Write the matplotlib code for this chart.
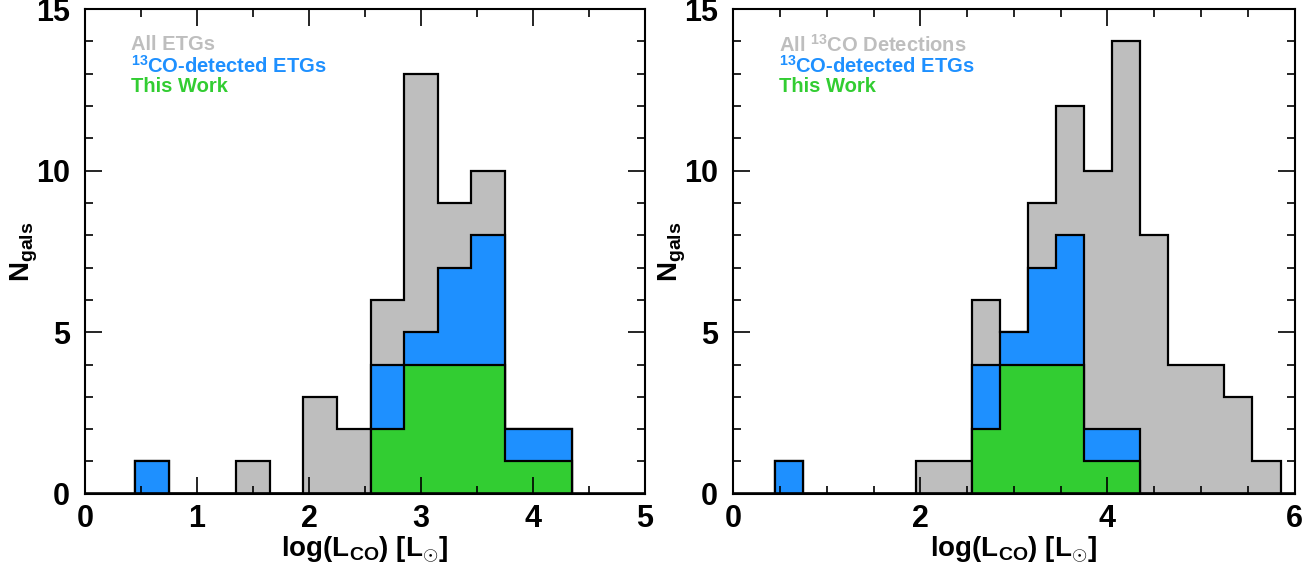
import numpy as np
import matplotlib
matplotlib.use('Agg')
from matplotlib import pyplot as plt

plt.rcParams['font.family'] = ['Liberation Sans', 'DejaVu Sans']
plt.rcParams['font.weight'] = 'bold'
plt.rcParams['axes.labelweight'] = 'bold'
plt.rcParams['mathtext.fontset'] = 'custom'
plt.rcParams['mathtext.rm'] = 'Liberation Sans:bold'
plt.rcParams['mathtext.bf'] = 'Liberation Sans:bold'
plt.rcParams['mathtext.default'] = 'bf'

# bin centres of log(L_CO), bin width 0.3
bins_left = [0.6, 0.9, 1.2, 1.5, 1.8, 2.1, 2.4, 2.7, 3.0, 3.3, 3.6, 3.9, 4.2]
all_etgs = [1, 0, 0, 1, 0, 3, 2, 6, 13, 9, 10, 2, 2]
etgs_13co_l = [1, 0, 0, 0, 0, 0, 0, 4, 5, 7, 8, 2, 2]
this_work_l = [0, 0, 0, 0, 0, 0, 0, 2, 4, 4, 4, 1, 1]

bins_right = [0.6, 0.9, 1.2, 1.5, 1.8, 2.1, 2.4, 2.7, 3.0, 3.3, 3.6, 3.9,
              4.2, 4.5, 4.8, 5.1, 5.4, 5.7]
all_13co = [1, 0, 0, 0, 0, 1, 1, 6, 5, 9, 12, 10, 14, 8, 4, 4, 3, 1]
etgs_13co_r = [1, 0, 0, 0, 0, 0, 0, 4, 5, 7, 8, 2, 2, 0, 0, 0, 0, 0]
this_work_r = [0, 0, 0, 0, 0, 0, 0, 2, 4, 4, 4, 1, 1, 0, 0, 0, 0, 0]
binw = 0.3

gray = '#BEBEBE'
blue = '#1E90FF'
green = '#32CD32'

fig = plt.figure(figsize=(13.07, 5.65), dpi=100)
ax1 = fig.add_axes([0.065, 0.126, 0.4285, 0.858])
ax2 = fig.add_axes([0.561, 0.126, 0.4295, 0.858])


def edges(c):
    c = np.asarray(c, float)
    return np.append(c - binw / 2, c[-1] + binw / 2)


def panel(ax, centres, series, labels, xmax, xmajor):
    e = edges(centres)
    for vals, col in zip(series, [gray, blue, green]):
        ax.stairs(vals, e, fill=True, facecolor=col, edgecolor='black',
                  linewidth=1.6, baseline=0)
    ax.axhline(0, color='black', lw=2.6, zorder=5)
    ax.set_xlim(0, xmax)
    ax.set_ylim(0, 15)
    ax.set_xticks(np.arange(0, xmax + 0.01, xmajor))
    ax.set_xticks(np.arange(0, xmax + 0.01, 0.5), minor=True)
    ax.set_yticks([0, 5, 10, 15])
    ax.set_yticks(np.arange(0, 16, 1), minor=True)
    ax.tick_params(which='both', direction='in', top=True, right=True,
                   labelsize=22, width=1.2)
    ax.tick_params(which='major', length=12, pad=7)
    ax.tick_params(axis='y', which='major', pad=11)
    ax.tick_params(which='minor', length=6)
    for s in ax.spines.values():
        s.set_linewidth(1.5)
    ax.set_xlabel(r'log(L$_{CO}$) [L$_{\odot}$]', fontsize=20, labelpad=1)
    ax.set_ylabel(r'N$_{gals}$', fontsize=20, labelpad=-3)
    for i, (lab, col) in enumerate(zip(labels, [gray, blue, green])):
        ax.text(0.082, 0.926 - 0.043 * i, lab, color=col, fontsize=14.5,
                transform=ax.transAxes, va='center', ha='left')


panel(ax1, bins_left, [all_etgs, etgs_13co_l, this_work_l],
      ['All ETGs', r'$^{13}$CO-detected ETGs', 'This Work'], 5, 1)
panel(ax2, bins_right, [all_13co, etgs_13co_r, this_work_r],
      [r'All $^{13}$CO Detections', r'$^{13}$CO-detected ETGs', 'This Work'], 6, 2)

fig.savefig('out.png', dpi=100)
